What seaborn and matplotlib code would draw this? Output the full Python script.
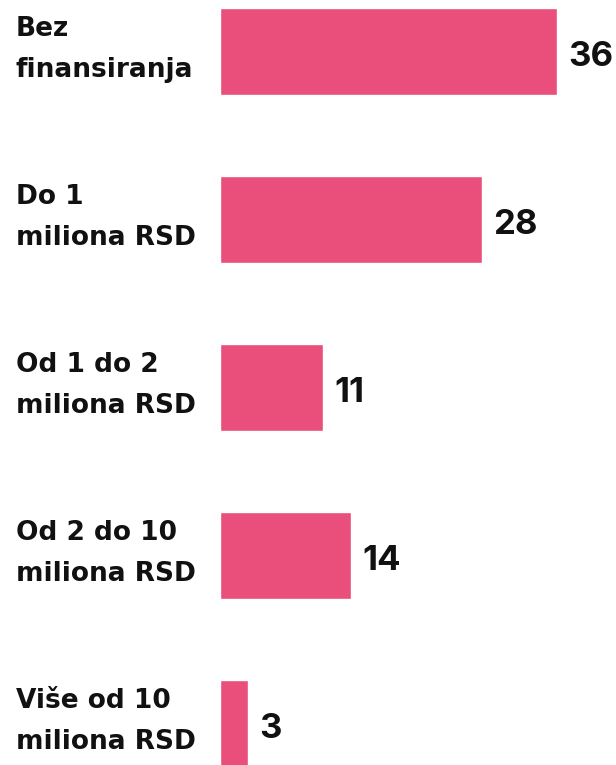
import numpy as np
import pandas as pd
import matplotlib
matplotlib.use("Agg")
import matplotlib.pyplot as plt
import matplotlib.transforms as mtransforms
import seaborn as sns

# Chart data
categories = ["Bez\nfinansiranja", "Do 1\nmiliona RSD", "Od 1 do 2\nmiliona RSD",
              "Od 2 do 10\nmiliona RSD", "Više od 10\nmiliona RSD"]
counts = [36, 28, 11, 14, 3]

df = pd.DataFrame({"category": categories, "count": counts})

sns.set_theme(style="white")
plt.rcParams["font.family"] = ["Inter", "DejaVu Sans"]

bar_color = "#E94F7A"
text_color = "#111111"

fig = plt.figure(figsize=(6.16, 7.65), dpi=100)
ax = fig.add_axes([220 / 616, 0, 396 / 616, 1])

sns.barplot(data=df, x="count", y="category", orient="h", color=bar_color,
            saturation=1, width=0.52, ax=ax)

ax.set_xlim(0, 36 * 396 / 337)
ax.set_ylim(765 / 168 - 51.5 / 168, -51.5 / 168)
ax.set_xlabel("")
ax.set_ylabel("")
ax.set_xticks([])
ax.set_yticks([])
sns.despine(ax=ax, left=True, bottom=True, top=True, right=True)

# category labels on the left, in figure x / data y coordinates
trans = mtransforms.blended_transform_factory(fig.transFigure, ax.transData)
for i, cat in enumerate(categories):
    ax.text(16 / 616, i - 0.01, cat, transform=trans, ha="left", va="center",
            fontsize=19, fontweight="bold", color=text_color, linespacing=1.75,
            family=["DejaVu Sans"])

# value labels next to the bars
for i, v in enumerate(counts):
    ax.annotate(str(v), xy=(v, i), xytext=(8, -4), textcoords="offset points",
                ha="left", va="center", fontsize=25, fontweight="bold",
                color=text_color, annotation_clip=False)

fig.savefig("out.png", dpi=100, facecolor="white")
